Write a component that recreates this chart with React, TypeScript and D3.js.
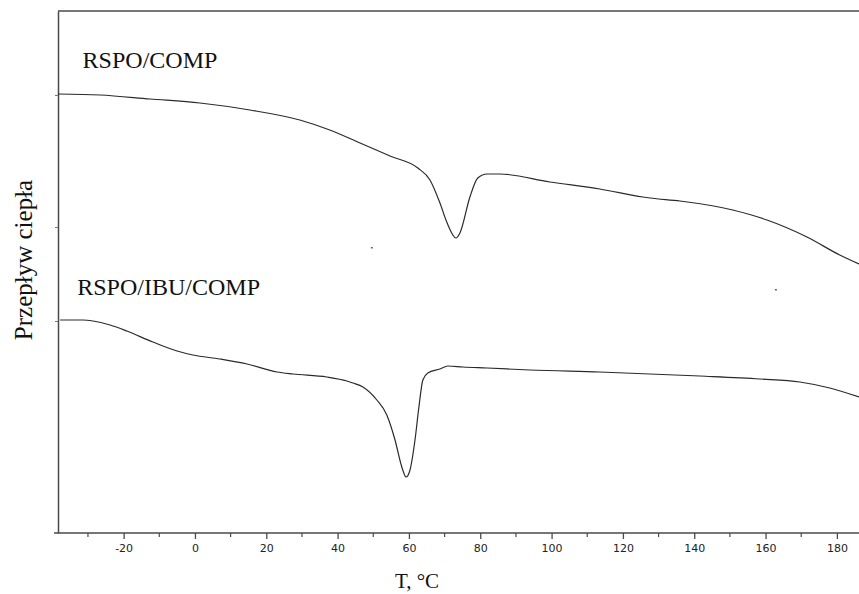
import React, { useRef, useEffect } from "react";
import * as d3 from "d3";

// temperatures (°C) and heat flow (arbitrary units)
const compTemps = [-38.4, -26.6, -12.6, 1.4, 15.4, 29.4, 37.8, 46.3, 54.7, 62.5, 65.9, 68.7, 70.6, 73.2, 74.3, 77.1, 79.3, 81.9, 85.5, 99.5, 113.5, 125.6, 127.6, 136.0, 150.8, 160.4, 171.6, 180.8, 186.2];
const compFlow = [439, 438, 434, 430, 423, 413, 403, 390, 377, 365, 353, 330, 311, 295, 300, 336, 355, 359, 359, 351, 344, 336, 335, 332, 323, 313, 296, 278, 269];

const ibuTemps = [-37.8, -31.4, -28.6, -23.8, -19.1, -11.8, -5.0, -0.6, 7.0, 14.6, 23.0, 27.5, 37.0, 42.6, 44.3, 47.1, 51.0, 53.8, 56.1, 58.0, 59.2, 60.3, 61.7, 62.8, 63.9, 65.3, 68.7, 70.9, 75.1, 81.9, 93.9, 113.5, 141.6, 158.4, 169.6, 178.0, 186.2];
const ibuFlow = [213, 213, 212, 208, 202, 191, 182, 178, 174, 169, 161, 159, 156, 152, 150, 146, 133, 118, 93, 66, 56, 63, 93, 126, 153, 160, 164, 167, 166, 165, 163, 161, 157, 154, 151, 145, 136];

const seriesLabels = ["RSPO/COMP", "RSPO/IBU/COMP"];
const labelPos = [
  { t: -31.5, v: 465 },
  { t: -33, v: 238 },
];

const xTicks = [-20, 0, 20, 40, 60, 80, 100, 120, 140, 160, 180];
const xMinorTicks = [-30, -10, 10, 30, 50, 70, 90, 110, 130, 150, 170];
const yTicks = [438, 306, 212];
const specks = [
  { t: 49.6, v: 285 },
  { t: 162.9, v: 243 },
];

const App = () => {
  const ref = useRef<SVGSVGElement>(null);

  useEffect(() => {
    const width = 859;
    const height = 594;
    const left = 58;
    const top = 11;
    const bottom = 533;

    const svg = d3.select(ref.current).attr("width", width).attr("height", height);
    svg.selectAll("*").remove();

    const x = d3.scaleLinear().domain([-38.4, 186.2]).range([left, width]);
    const y = d3.scaleLinear().domain([0, 522]).range([bottom, top]);

    const axisColor = "#4a4a4a";

    // frame: top line
    svg
      .append("line")
      .attr("x1", left)
      .attr("x2", width)
      .attr("y1", top)
      .attr("y2", top)
      .attr("stroke", axisColor)
      .attr("stroke-width", 1.5);

    // x axis
    const xAxis = svg
      .append("g")
      .attr("transform", `translate(0, ${bottom})`)
      .call(
        d3
          .axisBottom(x)
          .tickValues(xTicks)
          .tickSize(6)
          .tickSizeOuter(0)
          .tickPadding(5)
          .tickFormat((d) => String(d))
      );
    xAxis
      .select(".domain")
      .attr("stroke", axisColor)
      .attr("stroke-width", 1.5)
      .attr("d", `M${left - 4},0H${width}`);
    xAxis.selectAll(".tick line").attr("stroke", axisColor).attr("stroke-width", 1.3);
    xAxis
      .selectAll(".tick text")
      .attr("fill", "#222")
      .style("font-family", "'DejaVu Sans', Verdana, sans-serif")
      .style("font-size", "11px");

    svg
      .append("g")
      .selectAll("line")
      .data(xMinorTicks)
      .enter()
      .append("line")
      .attr("x1", (d) => x(d))
      .attr("x2", (d) => x(d))
      .attr("y1", bottom)
      .attr("y2", bottom + 4)
      .attr("stroke", axisColor)
      .attr("stroke-width", 1.2);

    // y axis
    const yAxis = svg
      .append("g")
      .attr("transform", `translate(${left}, 0)`)
      .call(d3.axisLeft(y).tickValues(yTicks).tickSize(3).tickSizeOuter(0).tickFormat(() => ""));
    yAxis.select(".domain").attr("stroke", axisColor).attr("stroke-width", 1.5);
    yAxis.selectAll(".tick line").attr("stroke", "#777").attr("stroke-width", 1);

    // curves
    const line = d3
      .line<[number, number]>()
      .x((d) => x(d[0]))
      .y((d) => y(d[1]))
      .curve(d3.curveMonotoneX);

    const series = [
      d3.zip(compTemps, compFlow) as [number, number][],
      d3.zip(ibuTemps, ibuFlow) as [number, number][],
    ];

    svg
      .selectAll(".curve")
      .data(series)
      .enter()
      .append("path")
      .attr("class", "curve")
      .attr("d", (d) => line(d))
      .attr("fill", "none")
      .attr("stroke", "#2a2a2a")
      .attr("stroke-width", 1.2);

    svg
      .selectAll(".speck")
      .data(specks)
      .enter()
      .append("rect")
      .attr("class", "speck")
      .attr("x", (d) => x(d.t) - 1)
      .attr("y", (d) => y(d.v) - 1)
      .attr("width", 2)
      .attr("height", 1.5)
      .attr("fill", "#666");

    // series labels
    svg
      .selectAll(".series-label")
      .data(seriesLabels)
      .enter()
      .append("text")
      .attr("class", "series-label")
      .attr("x", (d, i) => x(labelPos[i].t))
      .attr("y", (d, i) => y(labelPos[i].v))
      .text((d) => d)
      .attr("fill", "#111")
      .style("font-family", "'Liberation Serif', 'Times New Roman', serif")
      .style("font-size", "24px");

    // axis titles
    svg
      .append("text")
      .attr("x", 417)
      .attr("y", 588)
      .attr("text-anchor", "middle")
      .text("T, °C")
      .attr("fill", "#111")
      .style("font-family", "'Liberation Serif', 'Times New Roman', serif")
      .style("font-size", "21px");

    svg
      .append("text")
      .attr("transform", `translate(32, 260) rotate(-90)`)
      .attr("text-anchor", "middle")
      .text("Przepływ ciepła")
      .attr("fill", "#111")
      .style("font-family", "'Liberation Serif', 'Times New Roman', serif")
      .style("font-size", "25px");
  }, []);

  return (
    <svg
      ref={ref}
      style={{ position: "absolute", left: 0, top: 0, background: "#fff" }}
    ></svg>
  );
};

export default App;
